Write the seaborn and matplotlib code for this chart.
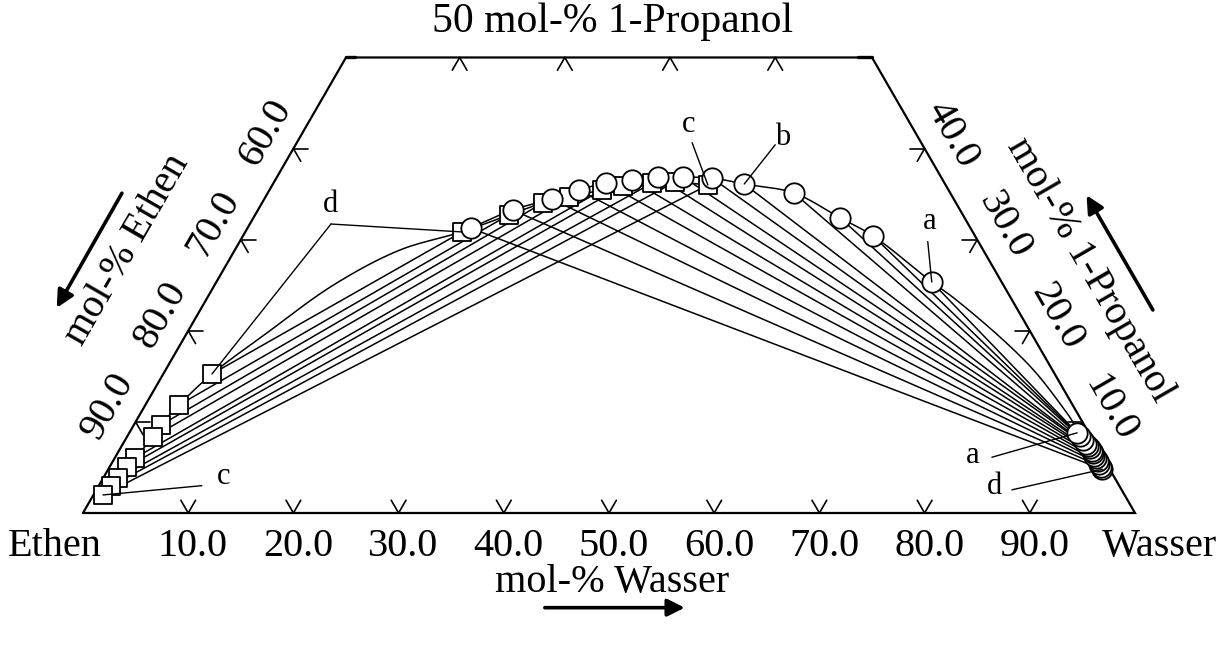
import numpy as np
import pandas as pd
import matplotlib
matplotlib.use("Agg")
import matplotlib.pyplot as plt
import seaborn as sns

# ---------------- data (mol-%: Wasser, 1-Propanol; Ethen = rest) ----------------
# ethen-rich vapour phase (squares near Ethen corner), series d -> c
vap_water = [4.63, 3.20, 2.58, 2.48, 1.92, 1.66, 1.41, 1.18, 0.91]
vap_prop = [15.26, 11.86, 9.66, 8.34, 6.04, 5.05, 3.84, 2.96, 1.98]
# propanol-rich liquid coexisting with vapour (squares at top), d -> c
l2v_water = [20.6, 24.1, 26.7, 28.9, 31.6, 33.4, 36.0, 38.1, 41.4]
l2v_prop = [30.85, 32.71, 34.03, 34.69, 35.46, 35.89, 36.22, 36.33, 36.00]
# propanol-rich liquid of liquid-liquid tie lines (circles at top), d -> a
l2_water = [21.2, 24.2, 27.3, 29.4, 31.6, 33.9, 36.2, 38.6, 41.4, 44.8, 50.0, 55.8, 59.9, 68.0]
l2_prop = [31.28, 33.26, 34.47, 35.46, 36.22, 36.55, 36.88, 36.88, 36.77, 36.11, 35.13, 32.38, 30.41, 25.36]
# aqueous liquid (circles near Wasser corner), d -> a
l1_water = [94.5, 94.2, 93.9, 93.6, 93.3, 93.0, 92.7, 92.5, 92.2, 91.9, 91.5, 91.1, 90.6, 90.1]
l1_prop = [4.8, 5.1, 5.4, 5.7, 6.0, 6.3, 6.6, 6.8, 7.1, 7.3, 7.6, 8.0, 8.4, 8.8]
# curve parts of the phase boundaries between the measured points
lv_bridge_water = [7.6, 11.3, 15.7]
lv_bridge_prop = [19.76, 25.03, 28.87]
ll_bridge_water = [70.8, 77.5, 82.5, 86.8, 89.2]
ll_bridge_prop = [23.71, 19.32, 15.70, 12.07, 9.88]

# axis ticks
bottom_ticks = [10, 20, 30, 40, 50, 60, 70, 80, 90]          # mol-% Wasser
left_ticks = [90, 80, 70, 60]                                 # mol-% Ethen
right_ticks = [10, 20, 30, 40]                                # mol-% 1-Propanol
top_ticks = [10.8, 20.8, 30.8, 40.8]                          # on 50 mol-% line
bottom_labels = [f"{v:.1f}" for v in bottom_ticks]
left_labels = [f"{v:.1f}" for v in left_ticks]
right_labels = [f"{v:.1f}" for v in right_ticks]
PMAX = 50.0

S3 = np.sqrt(3) / 2


def tern(w, p):
    w = np.asarray(w, float)
    p = np.asarray(p, float)
    return w + p / 2, p * S3


def smooth(x, y, n=24, alpha=0.5):
    P = np.column_stack([x, y]).astype(float)
    P = np.vstack([2 * P[0] - P[1], P, 2 * P[-1] - P[-2]])
    out = []
    for i in range(1, len(P) - 2):
        p0, p1, p2, p3 = P[i - 1], P[i], P[i + 1], P[i + 2]
        t0 = 0.0
        t1 = t0 + max(np.linalg.norm(p1 - p0), 1e-6) ** alpha
        t2 = t1 + max(np.linalg.norm(p2 - p1), 1e-6) ** alpha
        t3 = t2 + max(np.linalg.norm(p3 - p2), 1e-6) ** alpha
        t = np.linspace(t1, t2, n)[:, None]
        A1 = (t1 - t) / (t1 - t0) * p0 + (t - t0) / (t1 - t0) * p1
        A2 = (t2 - t) / (t2 - t1) * p1 + (t - t1) / (t2 - t1) * p2
        A3 = (t3 - t) / (t3 - t2) * p2 + (t - t2) / (t3 - t2) * p3
        B1 = (t2 - t) / (t2 - t0) * A1 + (t - t0) / (t2 - t0) * A2
        B2 = (t3 - t) / (t3 - t1) * A2 + (t - t1) / (t3 - t1) * A3
        C = (t2 - t) / (t2 - t1) * B1 + (t - t1) / (t2 - t1) * B2
        out.append(C if i == 1 else C[1:])
    C = np.vstack(out)
    return C[:, 0], C[:, 1]


sns.set_style("white")
plt.rcParams["font.family"] = ["Liberation Serif", "DejaVu Serif"]
plt.rcParams["text.color"] = "black"

fig = plt.figure(figsize=(12.25, 6.46), dpi=100)
ax = fig.add_axes([0, 0, 1, 1])
ax.set_xlim(-83 / 10.52, (1225 - 83) / 10.52)
ax.set_ylim((513 - 646) / 10.52, 513 / 10.52)
ax.set_axis_off()

K = "black"
FS = 29

# ---------------- frame ----------------
fw = [0, 100, 100 - PMAX, 0, 0]
fp = [0, 0, PMAX, PMAX, 0]
fx, fy = tern(fw, fp)
ax.plot(fx, fy, color=K, lw=1.6, zorder=1, solid_joinstyle="miter")

L = 1.4
def chevron(x, y, a1, a2, lw=1.2):
    for a in (a1, a2):
        r = np.deg2rad(a)
        ax.plot([x, x + L * np.cos(r)], [y, y + L * np.sin(r)], color=K, lw=lw, zorder=1)

for v, lab in zip(bottom_ticks, bottom_labels):
    x, y = tern(v, 0)
    chevron(x, y, 60, 120)
    ax.text(x + 0.45, y - 3.2, lab, ha="center", va="center", fontsize=FS, color=K)
for v, lab in zip(left_ticks, left_labels):
    x, y = tern(0, 100 - v)
    chevron(x, y, 0, -60)
    ax.text(x - 3.0 * 0.866, y + 3.0 * 0.5, lab, ha="center", va="center",
            fontsize=FS, rotation=60, rotation_mode="anchor", color=K)
for v, lab in zip(right_ticks, right_labels):
    x, y = tern(100 - v, v)
    chevron(x, y, 180, 240)
    ax.text(x + 3.0 * 0.866, y + 2.6 * 0.5, lab, ha="center", va="center",
            fontsize=FS, rotation=-60, rotation_mode="anchor", color=K)
for v in top_ticks:
    x, y = tern(v, PMAX)
    chevron(x, y, 240, 300)
# corner stubs at the top
xl, yl = tern(0, PMAX)
xr, yr = tern(100 - PMAX, PMAX)
ax.plot([xl, xl + 0.9], [yl, yl], color=K, lw=2.4, zorder=1)
ax.plot([xr - 1.3, xr], [yr, yr], color=K, lw=2.4, zorder=1)

# ---------------- phase boundaries ----------------
lv_w = vap_water[::-1] + lv_bridge_water + l2v_water
lv_p = vap_prop[::-1] + lv_bridge_prop + l2v_prop
cx, cy = smooth(*tern(lv_w, lv_p))
sns.lineplot(x=cx, y=cy, sort=False, color=K, lw=1.1, ax=ax, zorder=2, estimator=None)

ll_w = l2_water + ll_bridge_water + l1_water[::-1]
ll_p = l2_prop + ll_bridge_prop + l1_prop[::-1]
cx, cy = smooth(*tern(ll_w, ll_p))
sns.lineplot(x=cx, y=cy, sort=False, color=K, lw=1.1, ax=ax, zorder=2, estimator=None)

# ---------------- tie lines ----------------
rows = []
for i in range(len(vap_water)):
    for w, p in ((vap_water[i], vap_prop[i]), (l2v_water[i], l2v_prop[i])):
        x, y = tern(w, p)
        rows.append({"X": float(x), "Y": float(y), "tie": f"lv{i}"})
for i in range(len(l2_water)):
    for w, p in ((l2_water[i], l2_prop[i]), (l1_water[i], l1_prop[i])):
        x, y = tern(w, p)
        rows.append({"X": float(x), "Y": float(y), "tie": f"ll{i}"})
ties = pd.DataFrame(rows)
sns.lineplot(data=ties, x="X", y="Y", units="tie", estimator=None, sort=False,
             color=K, lw=1.1, ax=ax, zorder=2, legend=False)

# ---------------- markers ----------------
sq_w = vap_water + l2v_water
sq_p = vap_prop + l2v_prop
x, y = tern(sq_w, sq_p)
sns.scatterplot(x=x, y=y, marker="s", s=175, color="white", edgecolor=K,
                linewidth=1.3, ax=ax, zorder=3)
ci_w = l2_water + l1_water
ci_p = l2_prop + l1_prop
x, y = tern(ci_w, ci_p)
sns.scatterplot(x=x, y=y, marker="o", s=215, color="white", edgecolor=K,
                linewidth=1.3, ax=ax, zorder=4)

# ---------------- series labels with leader lines ----------------
LFS = 22
def leader(start, w, p):
    tx, ty = tern(w, p)
    ax.plot([start[0], tx], [start[1], ty], color=K, lw=1.0, zorder=5)

ax.text(23.5, 29.3, "d", fontsize=LFS, ha="center", va="center", color=K)
leader((23.57, 27.47), l2v_water[0], l2v_prop[0])
leader((23.57, 27.47), vap_water[0], vap_prop[0])
ax.text(57.6, 36.9, "c", fontsize=LFS, ha="center", va="center", color=K)
leader((57.9, 35.2), l2v_water[-1], l2v_prop[-1])
ax.text(66.5, 35.7, "b", fontsize=LFS, ha="center", va="center", color=K)
leader((65.8, 35.0), l2_water[9], l2_prop[9])
ax.text(80.5, 27.7, "a", fontsize=LFS, ha="center", va="center", color=K)
leader((80.3, 25.8), l2_water[-1], l2_prop[-1])
ax.text(84.6, 5.5, "a", fontsize=LFS, ha="center", va="center", color=K)
leader((86.4, 5.3), l1_water[-1], l1_prop[-1])
ax.text(86.6, 2.5, "d", fontsize=LFS, ha="center", va="center", color=K)
leader((88.3, 2.2), l1_water[0], l1_prop[0])
ax.text(13.4, 3.5, "c", fontsize=LFS, ha="center", va="center", color=K)
leader((11.3, 2.6), vap_water[-1], vap_prop[-1])

# ---------------- axis titles ----------------
ax.text(50.3, 46.7, f"{PMAX:.0f} mol-% 1-Propanol", fontsize=30, ha="center", va="center", color=K)
ax.text(-2.7, -3.2, "Ethen", fontsize=FS, ha="center", va="center", color=K)
ax.text(102.3, -3.2, "Wasser", fontsize=FS, ha="center", va="center", color=K)
ax.text(50.3, -6.6, "mol-% Wasser", fontsize=FS, ha="center", va="center", color=K)
ax.text(4.2, 25.0, "mol-% Ethen", fontsize=FS, ha="center", va="center",
        rotation=60, rotation_mode="anchor", color=K)
ax.text(95.7, 23.1, "mol-% 1-Propanol", fontsize=FS, ha="center", va="center",
        rotation=-60, rotation_mode="anchor", color=K)

ap = dict(arrowstyle="-|>", lw=2.6, color=K, mutation_scale=26, shrinkA=0, shrinkB=0)
ax.annotate("", xy=(57.2, -9.0), xytext=(43.9, -9.0), arrowprops=ap)
ax.annotate("", xy=(-2.5, 19.5), xytext=(3.7, 30.4), arrowprops=ap)
ax.annotate("", xy=(95.4, 30.2), xytext=(101.7, 19.3), arrowprops=ap)

fig.savefig("out.png", dpi=100, facecolor="white")
